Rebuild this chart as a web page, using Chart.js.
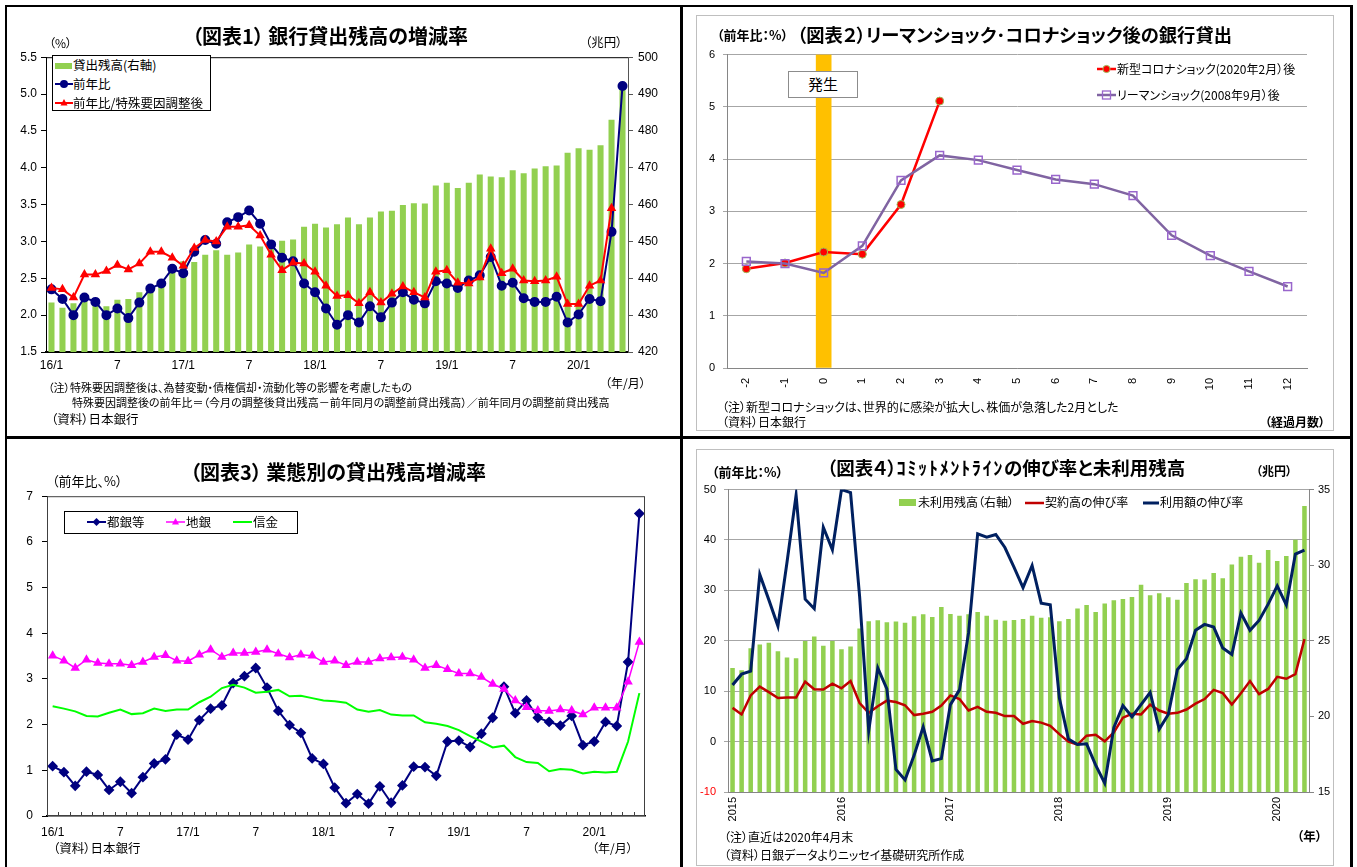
<!DOCTYPE html>
<html lang="ja">
<head>
<meta charset="utf-8">
<title>銀行貸出</title>
<script src="https://cdn.jsdelivr.net/npm/chart.js@4.4.1/dist/chart.umd.min.js"></script>
<style>
html, body { margin: 0; padding: 0; background: #fff; }
#page { position: relative; width: 1357px; height: 867px; overflow: hidden; font-family: "Noto Sans CJK JP", sans-serif; font-feature-settings: "palt"; color: #000; }
canvas { position: absolute; }
.lbl { position: absolute; line-height: 20px; white-space: nowrap; }
.rule { position: absolute; background: #000; }
.frame { position: absolute; border: 1px solid #BFBFBF; box-sizing: border-box; }
.box { position: absolute; border: 1px solid #000; background: #fff; box-sizing: border-box; }
</style>
</head>
<body>
<div id="page">
	<div class="frame" style="left:696px;top:15px;width:638px;height:416px"></div>
	<div class="frame" style="left:696px;top:449px;width:638px;height:417px"></div>
	<canvas id="c1" width="665" height="335" style="left:8px;top:45px"></canvas>
	<canvas id="c2" width="636" height="365" style="left:697px;top:40px"></canvas>
	<canvas id="c3" width="665" height="365" style="left:8px;top:480px"></canvas>
	<canvas id="c4" width="636" height="355" style="left:697px;top:475px"></canvas>
	<div class="rule" style="left:5px;top:5px;width:1348px;height:2px"></div>
	<div class="rule" style="left:5px;top:5px;width:2px;height:862px"></div>
	<div class="rule" style="left:1350px;top:5px;width:3px;height:862px"></div>
	<div class="rule" style="left:680px;top:5px;width:3px;height:862px"></div>
	<div class="rule" style="left:5px;top:436px;width:1348px;height:3px"></div>
</div>
<script>
// ---- data ----
// monthly categories 2016/1 - 2020/5 (charts 1 and 3)
var months16 = ['16/1','16/2','16/3','16/4','16/5','16/6','16/7','16/8','16/9','16/10','16/11','16/12',
	'17/1','17/2','17/3','17/4','17/5','17/6','17/7','17/8','17/9','17/10','17/11','17/12',
	'18/1','18/2','18/3','18/4','18/5','18/6','18/7','18/8','18/9','18/10','18/11','18/12',
	'19/1','19/2','19/3','19/4','19/5','19/6','19/7','19/8','19/9','19/10','19/11','19/12',
	'20/1','20/2','20/3','20/4','20/5'];

// chart 1
var loanBalance = [433.4, 432.0, 433.2, 434.0, 433.0, 432.4, 434.2, 434.4, 436.2, 437.0, 439.0, 441.8,
	444.6, 444.4, 446.4, 447.6, 446.4, 447.0, 449.2, 448.6, 449.0, 450.2, 450.5, 454.0,
	454.8, 453.8, 454.7, 456.5, 454.7, 456.5, 458.1, 458.3, 459.9, 460.4, 460.3, 465.2,
	465.9, 464.5, 465.9, 468.2, 467.6, 467.4, 469.3, 468.5, 469.8, 470.4, 470.6, 474.1,
	475.3, 474.9, 476.1, 483.0, 492.4];
var loanYoY = [2.35, 2.22, 2.00, 2.24, 2.18, 2.00, 2.09, 1.96, 2.17, 2.36, 2.43, 2.63,
	2.57, 2.86, 3.02, 2.97, 3.26, 3.33, 3.42, 3.24, 2.96, 2.78, 2.73, 2.43,
	2.31, 2.09, 1.87, 2.00, 1.90, 2.12, 1.97, 2.17, 2.31, 2.21, 2.16, 2.46,
	2.43, 2.37, 2.47, 2.54, 2.79, 2.40, 2.44, 2.23, 2.18, 2.18, 2.25, 1.90,
	2.01, 2.22, 2.19, 3.13, 5.11];
var loanYoYAdj = [2.37, 2.35, 2.24, 2.55, 2.55, 2.60, 2.68, 2.62, 2.70, 2.86, 2.86, 2.78,
	2.67, 2.91, 3.02, 3.00, 3.20, 3.20, 3.22, 3.08, 2.82, 2.61, 2.71, 2.70,
	2.59, 2.40, 2.26, 2.27, 2.16, 2.31, 2.17, 2.29, 2.39, 2.31, 2.24, 2.59,
	2.61, 2.44, 2.43, 2.51, 2.90, 2.57, 2.63, 2.47, 2.46, 2.47, 2.52, 2.15,
	2.15, 2.40, 2.47, 3.45, null];

// chart 2
var elapsedMonths = ['-2', '-1', '0', '1', '2', '3', '4', '5', '6', '7', '8', '9', '10', '11', '12'];
var coronaShock = [1.90, 2.01, 2.22, 2.18, 3.13, 5.11, null, null, null, null, null, null, null, null, null];
var lehmanShock = [2.04, 2.00, 1.82, 2.34, 3.59, 4.07, 3.98, 3.79, 3.61, 3.52, 3.30, 2.54, 2.15, 1.85, 1.56];
var shockMark = [null, null, 6, null, null, null, null, null, null, null, null, null, null, null, null];

// chart 3
var cityBanks = [1.09, 0.96, 0.66, 0.97, 0.90, 0.57, 0.75, 0.50, 0.85, 1.15, 1.24, 1.78,
	1.67, 2.10, 2.35, 2.42, 2.91, 3.06, 3.24, 2.81, 2.30, 1.99, 1.82, 1.26,
	1.14, 0.62, 0.28, 0.48, 0.27, 0.65, 0.29, 0.67, 1.08, 1.07, 0.88, 1.63,
	1.65, 1.51, 1.80, 2.15, 2.83, 2.25, 2.53, 2.15, 2.06, 1.98, 2.19, 1.55,
	1.63, 2.06, 1.97, 3.37, 6.62];
var regionalBanks = [3.51, 3.40, 3.24, 3.42, 3.35, 3.33, 3.33, 3.30, 3.37, 3.48, 3.52, 3.40,
	3.39, 3.53, 3.64, 3.48, 3.57, 3.57, 3.59, 3.64, 3.55, 3.47, 3.53, 3.51,
	3.37, 3.40, 3.30, 3.37, 3.37, 3.45, 3.47, 3.48, 3.42, 3.24, 3.30, 3.21,
	3.12, 3.12, 3.04, 2.89, 2.78, 2.53, 2.38, 2.31, 2.30, 2.33, 2.31, 2.22,
	2.37, 2.37, 2.37, 2.94, 3.81];
var shinkin = [2.40, 2.35, 2.29, 2.19, 2.18, 2.26, 2.33, 2.23, 2.25, 2.35, 2.30, 2.33,
	2.33, 2.49, 2.61, 2.80, 2.87, 2.81, 2.70, 2.72, 2.76, 2.62, 2.63, 2.58,
	2.53, 2.51, 2.48, 2.33, 2.28, 2.32, 2.22, 2.20, 2.20, 2.05, 2.02, 1.97,
	1.88, 1.75, 1.63, 1.50, 1.54, 1.29, 1.18, 1.16, 0.98, 1.03, 1.01, 0.93,
	0.97, 0.95, 0.97, 1.63, 2.69];

// chart 4: monthly 2015/1 - 2020/4
var months15 = ['2015/1','2015/2','2015/3','2015/4','2015/5','2015/6','2015/7','2015/8','2015/9','2015/10','2015/11','2015/12',
	'2016/1','2016/2','2016/3','2016/4','2016/5','2016/6','2016/7','2016/8','2016/9','2016/10','2016/11','2016/12',
	'2017/1','2017/2','2017/3','2017/4','2017/5','2017/6','2017/7','2017/8','2017/9','2017/10','2017/11','2017/12',
	'2018/1','2018/2','2018/3','2018/4','2018/5','2018/6','2018/7','2018/8','2018/9','2018/10','2018/11','2018/12',
	'2019/1','2019/2','2019/3','2019/4','2019/5','2019/6','2019/7','2019/8','2019/9','2019/10','2019/11','2019/12',
	'2020/1','2020/2','2020/3','2020/4'];
var unusedBalance = [23.20, 23.05, 24.50, 24.76, 24.87, 24.31, 23.90, 23.85, 24.98, 25.28, 24.68, 24.98,
	24.44, 24.63, 25.82, 26.30, 26.36, 26.23, 26.28, 26.19, 26.62, 26.75, 26.58, 27.23,
	26.77, 26.65, 26.75, 26.90, 26.65, 26.39, 26.32, 26.37, 26.45, 26.65, 26.52, 26.56,
	26.30, 26.45, 27.14, 27.36, 26.90, 27.47, 27.68, 27.77, 27.90, 28.70, 28.01, 28.14,
	27.88, 27.71, 28.83, 29.07, 29.05, 29.48, 29.13, 30.04, 30.56, 30.67, 30.17, 31.00,
	30.28, 30.61, 31.69, 33.92];
var contractGrowth = [6.69, 5.39, 9.16, 10.91, 9.81, 8.64, 8.77, 8.77, 11.88, 10.39, 10.32, 11.49,
	10.58, 12.01, 7.66, 5.71, 7.01, 8.12, 7.86, 7.21, 5.26, 5.52, 5.91, 7.14,
	9.16, 8.44, 6.17, 6.88, 5.91, 5.71, 5.06, 5.06, 3.54, 4.09, 3.77, 3.12,
	1.49, 0.00, -0.58, 1.17, 1.36, 0.06, 1.82, 4.74, 5.52, 5.39, 7.34, 6.17,
	5.52, 5.71, 6.36, 7.53, 8.44, 10.26, 9.61, 7.34, 9.61, 12.01, 9.42, 10.45,
	12.86, 12.47, 13.38, 20.32];
var usageGrowth = [11.23, 13.38, 13.96, 33.18, 28.12, 22.92, 35.58, 48.90, 28.25, 26.36, 42.53, 38.05,
	50.00, 49.42, 28.77, 2.14, 14.61, 10.45, -5.52, -7.60, -2.73, 2.92, -3.83, -3.38,
	7.34, 10.26, 21.62, 41.23, 40.58, 41.10, 38.51, 34.61, 30.55, 34.94, 27.47, 27.14,
	8.64, 0.52, -0.58, -0.45, -4.68, -8.25, 2.79, 7.14, 4.94, 7.34, 9.74, 2.47,
	5.39, 14.29, 16.43, 22.08, 23.25, 22.73, 18.57, 17.27, 25.52, 22.08, 24.03, 27.27,
	30.91, 27.14, 37.21, 37.99];

// ---- helpers ----
Chart.defaults.font.family = "'Liberation Sans', Arial, sans-serif";
Chart.defaults.font.size = 12;
Chart.defaults.color = '#000';

var page = document.getElementById('page');

function addText(txt, x, y, size, opts) {
	opts = opts || {};
	var d = document.createElement('div');
	d.className = 'lbl';
	if (opts.html) d.innerHTML = txt; else d.textContent = txt;
	d.style.left = x + 'px';
	d.style.top = (y - 10) + 'px';
	d.style.fontSize = size + 'px';
	if (opts.bold) d.style.fontWeight = 'bold';
	if (opts.color) d.style.color = opts.color;
	if (opts.align === 'center') d.style.transform = 'translateX(-50%)';
	if (opts.align === 'right') d.style.transform = 'translateX(-100%)';
	page.appendChild(d);
	return d;
}

function addIcon(svg, x, y, h) {
	var d = document.createElement('div');
	d.style.position = 'absolute';
	d.style.left = x + 'px';
	d.style.top = (y - h / 2) + 'px';
	d.style.lineHeight = '0';
	d.innerHTML = svg;
	page.appendChild(d);
}

function addBox(cls, x, y, w, h) {
	var d = document.createElement('div');
	d.className = cls;
	d.style.left = x + 'px';
	d.style.top = y + 'px';
	d.style.width = w + 'px';
	d.style.height = h + 'px';
	page.appendChild(d);
	return d;
}

function fixWidth(w) { return function (s) { s.width = w; }; }
function fixHeight(h) { return function (s) { s.height = h; }; }

function monthTick(val, i) {
	var p = months16[i].split('/');
	if (p[1] === '1') return months16[i];
	if (p[1] === '7') return '7';
	return '';
}

function baseOptions(top, right) {
	return {
		responsive: false,
		animation: false,
		layout: { padding: { top: top, right: right, left: 0, bottom: 0 }, autoPadding: false },
		plugins: { legend: { display: false }, tooltip: { enabled: false } },
		elements: { line: { tension: 0 } }
	};
}

// extra lines around the plot area
var plotFrame = {
	id: 'plotFrame',
	afterDraw: function (chart, args, opts) {
		var a = chart.chartArea, ctx = chart.ctx;
		ctx.save();
		ctx.strokeStyle = opts.color || '#000';
		ctx.lineWidth = 1;
		if (opts.top) {
			ctx.beginPath();
			ctx.moveTo(a.left, a.top + 0.5);
			ctx.lineTo(a.right, a.top + 0.5);
			ctx.stroke();
		}
		if (opts.box) {
			ctx.strokeRect(a.left + 0.5, a.top + 0.5, a.right - a.left - 1, a.bottom - a.top - 1);
		}
		if (opts.innerTicks) {
			var n = chart.data.labels.length, w = (a.right - a.left) / n;
			ctx.beginPath();
			for (var i = 1; i < n; i++) {
				var px = Math.round(a.left + i * w) + 0.5;
				ctx.moveTo(px, a.bottom);
				ctx.lineTo(px, a.bottom - 4);
			}
			ctx.stroke();
		}
		ctx.restore();
	}
};

//Chart 1: loan balance and growth
(function () {
	var opt = baseOptions(6, 0);
	opt.plugins.plotFrame = { top: true, color: '#000' };
	opt.scales = {
		x: {
			offset: true,
			grid: { drawOnChartArea: false, drawTicks: false },
			border: { color: '#000', width: 2 },
			ticks: { autoSkip: false, maxRotation: 0, padding: 6, font: { size: 12 }, callback: monthTick },
			afterFit: fixHeight(28)
		},
		y: {
			position: 'left', min: 1.5, max: 5.5,
			grid: { drawOnChartArea: false, tickLength: 5, color: '#000' },
			border: { color: '#000' },
			ticks: { stepSize: 0.5, padding: 4, callback: function (v) { return v.toFixed(1); } },
			afterFit: fixWidth(38)
		},
		y2: {
			position: 'right', min: 420, max: 500,
			grid: { drawOnChartArea: false, tickLength: 5, color: '#555' },
			border: { color: '#555' },
			ticks: { stepSize: 10, padding: 5 },
			afterFit: fixWidth(45)
		}
	};
	new Chart(document.getElementById('c1'), {
		type: 'bar',
		data: {
			labels: months16,
			datasets: [{
				type: 'line', label: '前年比/特殊要因調整後', data: loanYoYAdj, yAxisID: 'y',
				borderColor: '#FF0000', backgroundColor: '#FF0000', borderWidth: 2,
				pointStyle: 'triangle', pointRadius: 3.5, order: 0
			}, {
				type: 'line', label: '前年比', data: loanYoY, yAxisID: 'y',
				borderColor: '#000080', backgroundColor: '#000080', borderWidth: 2,
				pointStyle: 'circle', pointRadius: 4, order: 1
			}, {
				type: 'bar', label: '貸出残高(右軸)', data: loanBalance, yAxisID: 'y2',
				backgroundColor: '#92D050', categoryPercentage: 1, barPercentage: 0.55, order: 2
			}]
		},
		options: opt,
		plugins: [plotFrame]
	});

	addText('（図表1） 銀行貸出残高の増減率', 192, 36, 20, { bold: true });
	addText('（%）', 49, 43, 12);
	addText('（兆円）', 585, 42, 12.5);
	addBox('box', 52, 55, 159, 56);
	addIcon('<svg width="17" height="6"><rect width="17" height="6" fill="#92D050"/></svg>', 55, 65, 6);
	addText('貸出残高(右軸)', 73, 65, 12.5);
	addIcon('<svg width="18" height="10"><line x1="0" y1="5" x2="18" y2="5" stroke="#000080" stroke-width="2"/><circle cx="9" cy="5" r="4" fill="#000080"/></svg>', 55, 84, 10);
	addText('前年比', 73, 84, 12.5);
	addIcon('<svg width="18" height="10"><line x1="0" y1="5" x2="18" y2="5" stroke="#FF0000" stroke-width="2"/><polygon points="9,1 12.5,7.5 5.5,7.5" fill="#FF0000"/></svg>', 55, 103, 10);
	addText('前年比/特殊要因調整後', 73, 103, 12.5);
	addText('（年/月）', 605, 383, 12);
	addText('（注）特殊要因調整後は、為替変動・債権償却・流動化等の影響を考慮したもの', 48, 387, 11);
	addText('特殊要因調整後の前年比＝（今月の調整後貸出残高－前年同月の調整前貸出残高）／前年同月の調整前貸出残高', 72, 402, 11);
	addText('（資料）日本銀行', 51, 419, 12.5);
})();

//Chart 2: after Lehman / corona shock
(function () {
	var opt = baseOptions(11, 26);
	opt.scales = {
		x: {
			offset: true,
			grid: { drawOnChartArea: false, drawTicks: false },
			border: { color: '#868686' },
			ticks: { autoSkip: false, minRotation: 90, maxRotation: 90, padding: 10, font: { size: 11 } },
			afterFit: fixHeight(37)
		},
		y: {
			min: 0, max: 6,
			grid: { color: '#A6A6A6', tickLength: 4 },
			border: { color: '#868686' },
			ticks: { stepSize: 1, padding: 8, font: { size: 11 } },
			afterFit: fixWidth(30)
		}
	};
	new Chart(document.getElementById('c2'), {
		type: 'line',
		data: {
			labels: elapsedMonths,
			datasets: [{
				label: 'リーマンショック(2008年9月）後', data: lehmanShock,
				borderColor: '#8064A2', borderWidth: 2.5,
				pointStyle: 'rect', pointRadius: 5.5, pointBackgroundColor: 'rgba(255,255,255,0)',
				pointBorderColor: '#9966CC', pointBorderWidth: 1.5, order: 0
			}, {
				label: '新型コロナショック(2020年2月）後', data: coronaShock,
				borderColor: '#FF0000', borderWidth: 2.5,
				pointStyle: 'circle', pointRadius: 4, pointBackgroundColor: '#FF0000',
				pointBorderColor: '#9BBB59', pointBorderWidth: 1, order: 1
			}, {
				type: 'bar', label: '発生', data: shockMark,
				backgroundColor: '#FFC000', barThickness: 15, order: 2
			}]
		},
		options: opt
	});

	addText('（前年比：%）', 717, 35, 13, { bold: true });
	addText('（図表２）リーマンショック･コロナショック後の銀行貸出', 797, 34, 18.3, { bold: true });
	var b = addBox('box', 788, 71, 70, 27);
	b.style.borderColor = '#8C8C8C';
	addText('発生', 823, 84, 15, { align: 'center' });
	addIcon('<svg width="19" height="10"><line x1="0" y1="5" x2="19" y2="5" stroke="#FF0000" stroke-width="2.5"/><circle cx="9.5" cy="5" r="3.6" fill="#FF0000" stroke="#9BBB59" stroke-width="1"/></svg>', 1097, 69, 10);
	addText('新型コロナショック(2020年2月）後', 1117, 69, 12);
	addIcon('<svg width="19" height="12"><line x1="0" y1="6" x2="19" y2="6" stroke="#8064A2" stroke-width="2.5"/><rect x="5.5" y="2" width="8" height="8" fill="none" stroke="#9966CC" stroke-width="1.3"/></svg>', 1097, 95, 12);
	addText('リーマンショック(2008年9月）後', 1117, 95, 12);
	addText('（注）新型コロナショックは、世界的に感染が拡大し、株価が急落した2月とした', 722, 407, 12);
	addText('（資料）日本銀行', 722, 422, 12);
	addText('（経過月数）', 1325, 422, 12, { bold: true, align: 'right' });
})();

//Chart 3: by type of bank
(function () {
	var opt = baseOptions(11, 28);
	opt.plugins.plotFrame = { box: true, innerTicks: true, color: '#404040' };
	opt.scales = {
		x: {
			offset: true,
			grid: { drawOnChartArea: false, drawTicks: false },
			border: { color: '#000', width: 1.5 },
			ticks: { autoSkip: false, maxRotation: 0, padding: 9, font: { size: 12 }, callback: monthTick },
			afterFit: fixHeight(29)
		},
		y: {
			min: 0, max: 7,
			grid: { drawOnChartArea: false, tickLength: 5, color: '#000' },
			border: { color: '#000' },
			ticks: { stepSize: 1, padding: 9, font: { size: 12 } },
			afterFit: fixWidth(39)
		}
	};
	new Chart(document.getElementById('c3'), {
		type: 'line',
		data: {
			labels: months16,
			datasets: [{
				label: '都銀等', data: cityBanks,
				borderColor: '#000080', backgroundColor: '#000080', borderWidth: 2,
				pointStyle: 'rectRot', pointRadius: 4, order: 3
			}, {
				label: '地銀', data: regionalBanks,
				borderColor: '#FF00FF', backgroundColor: '#FF00FF', borderWidth: 1.5,
				pointStyle: 'triangle', pointRadius: 4, order: 2
			}, {
				label: '信金', data: shinkin,
				borderColor: '#00FF00', borderWidth: 2, pointRadius: 0, order: 1
			}]
		},
		options: opt,
		plugins: [plotFrame]
	});

	addText('（図表3） 業態別の貸出残高増減率', 190, 472, 20, { bold: true });
	addText('（前年比、%）', 52, 481, 13);
	addBox('box', 64, 511, 234, 23);
	addIcon('<svg width="19" height="10"><line x1="0" y1="5" x2="19" y2="5" stroke="#000080" stroke-width="2"/><polygon points="9.5,1 13.5,5 9.5,9 5.5,5" fill="#000080"/></svg>', 87, 522, 10);
	addText('都銀等', 107, 522, 12.5);
	addIcon('<svg width="19" height="10"><line x1="0" y1="5" x2="19" y2="5" stroke="#FF00FF" stroke-width="1.5"/><polygon points="9.5,1 13,7.5 6,7.5" fill="#FF00FF"/></svg>', 166, 522, 10);
	addText('地銀', 186, 522, 12.5);
	addIcon('<svg width="19" height="10"><line x1="0" y1="5" x2="19" y2="5" stroke="#00FF00" stroke-width="2"/></svg>', 233, 522, 10);
	addText('信金', 253, 522, 12.5);
	addText('（資料）日本銀行', 53, 848, 12.5);
	addText('（年/月）', 592, 848, 12);
})();

//Chart 4: commitment lines
(function () {
	var opt = baseOptions(9, 0);
	opt.scales = {
		x: {
			offset: true,
			grid: { drawOnChartArea: false, drawTicks: false },
			border: { color: '#868686' },
			ticks: {
				autoSkip: false, minRotation: 90, maxRotation: 90, padding: 5, font: { size: 11 },
				callback: function (v, i) {
					var p = months15[i].split('/');
					return p[1] === '1' ? p[0] : '';
				}
			},
			afterFit: fixHeight(38)
		},
		y: {
			position: 'left', min: -10, max: 50,
			grid: { color: '#A6A6A6', tickLength: 4 },
			border: { color: '#868686' },
			ticks: {
				stepSize: 10, padding: 8, font: { size: 11 },
				color: function (c) { return c.tick && c.tick.value < 0 ? '#FF0000' : '#000'; }
			},
			afterFit: fixWidth(31)
		},
		y2: {
			position: 'right', min: 15, max: 35,
			grid: { drawOnChartArea: false, tickLength: 5, color: '#868686' },
			border: { color: '#868686' },
			ticks: { stepSize: 5, padding: 4, font: { size: 11 } },
			afterFit: fixWidth(24)
		}
	};
	new Chart(document.getElementById('c4'), {
		type: 'bar',
		data: {
			labels: months15,
			datasets: [{
				type: 'line', label: '利用額の伸び率', data: usageGrowth, yAxisID: 'y',
				borderColor: '#002060', borderWidth: 3, pointRadius: 0, order: 1
			}, {
				type: 'line', label: '契約高の伸び率', data: contractGrowth, yAxisID: 'y',
				borderColor: '#C00000', borderWidth: 2.5, pointRadius: 0, order: 2
			}, {
				type: 'bar', label: '未利用残高（右軸）', data: unusedBalance, yAxisID: 'y2',
				backgroundColor: '#92D050', categoryPercentage: 1, barPercentage: 0.5, order: 3
			}]
		},
		options: opt
	});

	addText('（前年比：%）', 712, 472, 13, { bold: true });
	addText('（図表４）<span style="letter-spacing:1.5px">ｺﾐｯﾄﾒﾝﾄﾗｲﾝ</span>の伸び率と未利用残高', 827, 467, 18.5, { bold: true, html: true });
	addText('（兆円）', 1256, 471, 12, { bold: true });
	addIcon('<svg width="17" height="7"><rect width="17" height="7" fill="#92D050"/></svg>', 899, 502, 7);
	addText('未利用残高（右軸）', 918, 502, 12);
	addIcon('<svg width="19" height="6"><line x1="0" y1="3" x2="19" y2="3" stroke="#C00000" stroke-width="2.5"/></svg>', 1025, 502, 6);
	addText('契約高の伸び率', 1045, 502, 12);
	addIcon('<svg width="16" height="6"><line x1="0" y1="3" x2="16" y2="3" stroke="#002060" stroke-width="3"/></svg>', 1143, 502, 6);
	addText('利用額の伸び率', 1160, 502, 12);
	addText('（注）直近は2020年4月末', 724, 837, 12);
	addText('（資料）日銀データよりニッセイ基礎研究所作成', 724, 855, 12);
	addText('（年）', 1297, 836, 12.5, { bold: true });
})();
</script>
</body>
</html>
